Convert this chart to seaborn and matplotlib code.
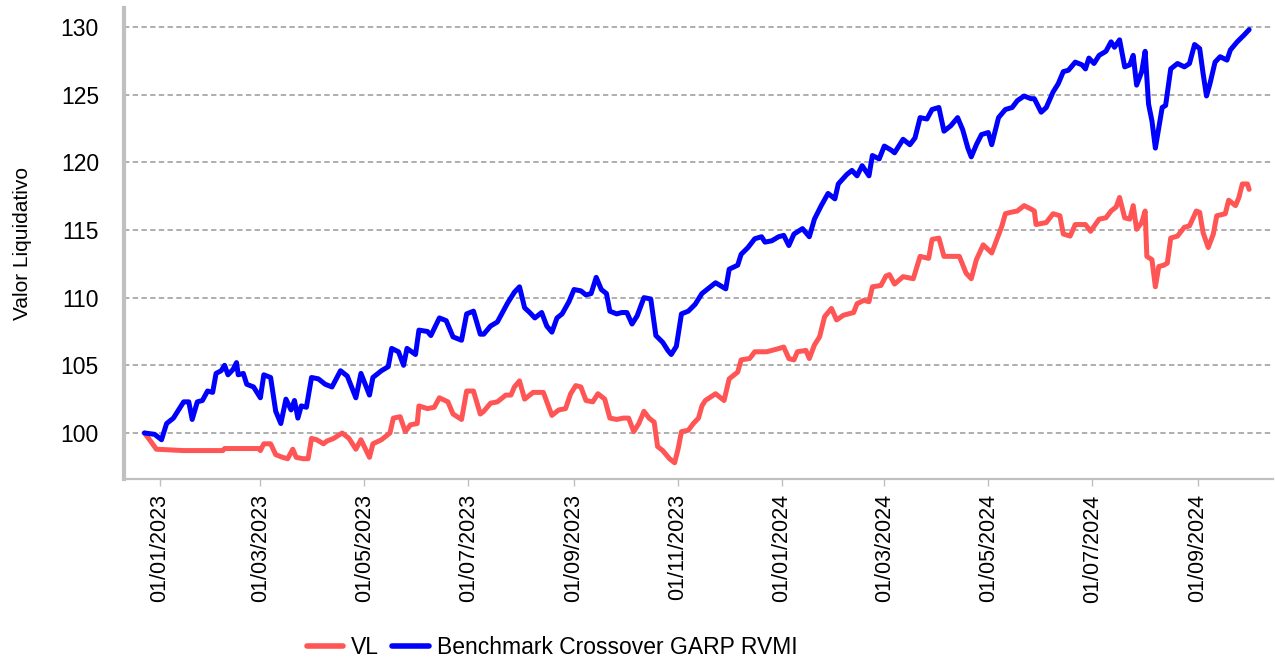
import numpy as np
import pandas as pd
import matplotlib
matplotlib.use('Agg')
import matplotlib.pyplot as plt
import matplotlib.dates as mdates
import seaborn as sns

# VL series
vl_dates = [
    '2022-12-23', '2022-12-26', '2022-12-30', '2023-01-15', '2023-02-07', '2023-02-08',
    '2023-02-28', '2023-03-01', '2023-03-03', '2023-03-07', '2023-03-10', '2023-03-14',
    '2023-03-17', '2023-03-20', '2023-03-22', '2023-03-26', '2023-03-29', '2023-03-31',
    '2023-04-03', '2023-04-07', '2023-04-09', '2023-04-13', '2023-04-18', '2023-04-22',
    '2023-04-26', '2023-04-29', '2023-05-04', '2023-05-06', '2023-05-11', '2023-05-16',
    '2023-05-18', '2023-05-22', '2023-05-25', '2023-05-28', '2023-06-01', '2023-06-02',
    '2023-06-07', '2023-06-11', '2023-06-14', '2023-06-19', '2023-06-22', '2023-06-27',
    '2023-06-30', '2023-07-04', '2023-07-08', '2023-07-10', '2023-07-14', '2023-07-18',
    '2023-07-23', '2023-07-26', '2023-07-28', '2023-07-31', '2023-08-03', '2023-08-08',
    '2023-08-14', '2023-08-19', '2023-08-23', '2023-08-27', '2023-08-30', '2023-09-02',
    '2023-09-05', '2023-09-08', '2023-09-12', '2023-09-15', '2023-09-19', '2023-09-22',
    '2023-09-26', '2023-09-30', '2023-10-03', '2023-10-06', '2023-10-09', '2023-10-12',
    '2023-10-15', '2023-10-18', '2023-10-20', '2023-10-23', '2023-10-27', '2023-10-30',
    '2023-11-01', '2023-11-03', '2023-11-07', '2023-11-10', '2023-11-13', '2023-11-15',
    '2023-11-17', '2023-11-23', '2023-11-28', '2023-12-01', '2023-12-06', '2023-12-08',
    '2023-12-13', '2023-12-16', '2023-12-23', '2023-12-29', '2024-01-02', '2024-01-05',
    '2024-01-08', '2024-01-10', '2024-01-15', '2024-01-17', '2024-01-20', '2024-01-23',
    '2024-01-26', '2024-01-30', '2024-02-02', '2024-02-06', '2024-02-12', '2024-02-14',
    '2024-02-18', '2024-02-21', '2024-02-23', '2024-02-28', '2024-03-02', '2024-03-04',
    '2024-03-07', '2024-03-12', '2024-03-18', '2024-03-22', '2024-03-27', '2024-03-29',
    '2024-04-02', '2024-04-05', '2024-04-09', '2024-04-14', '2024-04-18', '2024-04-21',
    '2024-04-24', '2024-04-28', '2024-05-03', '2024-05-06', '2024-05-09', '2024-05-11',
    '2024-05-14', '2024-05-18', '2024-05-22', '2024-05-26', '2024-05-28', '2024-05-29',
    '2024-06-04', '2024-06-08', '2024-06-12', '2024-06-14', '2024-06-18', '2024-06-21',
    '2024-06-27', '2024-06-30', '2024-07-05', '2024-07-09', '2024-07-12', '2024-07-15',
    '2024-07-17', '2024-07-20', '2024-07-23', '2024-07-25', '2024-07-27', '2024-07-30',
    '2024-08-01', '2024-08-02', '2024-08-05', '2024-08-07', '2024-08-09', '2024-08-12',
    '2024-08-14', '2024-08-16', '2024-08-20', '2024-08-24', '2024-08-27', '2024-08-31',
    '2024-09-02', '2024-09-04', '2024-09-07', '2024-09-10', '2024-09-12', '2024-09-17',
    '2024-09-19', '2024-09-23', '2024-09-25', '2024-09-27', '2024-09-30', '2024-10-01',
]
vl_values = [
    100.0, 99.5, 98.8, 98.7, 98.7, 98.85,
    98.85, 98.7, 99.2, 99.2, 98.4, 98.2,
    98.1, 98.8, 98.2, 98.1, 98.1, 99.6,
    99.5, 99.2, 99.4, 99.6, 100.0, 99.6,
    98.8, 99.5, 98.2, 99.2, 99.5, 100.0,
    101.1, 101.2, 100.1, 100.6, 100.7, 102.0,
    101.8, 101.9, 102.6, 102.3, 101.4, 101.0,
    103.1, 103.1, 101.4, 101.6, 102.2, 102.3,
    102.8, 102.8, 103.4, 103.85, 102.5, 103.0,
    103.0, 101.3, 101.7, 101.8, 102.9, 103.5,
    103.4, 102.4, 102.3, 102.9, 102.5, 101.1,
    101.0, 101.1, 101.1, 100.1, 100.7, 101.6,
    101.1, 100.8, 99.0, 98.7, 98.1, 97.8,
    98.8, 100.1, 100.2, 100.7, 101.1, 102.0,
    102.4, 102.9, 102.4, 104.0, 104.5, 105.4,
    105.5, 106.0, 106.0, 106.2, 106.35, 105.5,
    105.4, 106.0, 106.1, 105.5, 106.5, 107.1,
    108.6, 109.2, 108.35, 108.7, 108.9, 109.55,
    109.8, 109.7, 110.8, 110.9, 111.6, 111.7,
    111.0, 111.55, 111.4, 113.05, 112.9, 114.3,
    114.4, 113.05, 113.05, 113.05, 111.8, 111.4,
    112.8, 113.9, 113.3, 114.3, 115.3, 116.2,
    116.3, 116.4, 116.8, 116.55, 116.4, 115.4,
    115.55, 116.2, 116.05, 114.7, 114.55, 115.4,
    115.4, 114.9, 115.8, 115.9, 116.4, 116.7,
    117.4, 115.9, 115.8, 116.8, 115.05, 115.55,
    116.4, 113.05, 112.8, 110.8, 112.3, 112.4,
    112.55, 114.4, 114.55, 115.2, 115.3, 116.4,
    116.3, 114.8, 113.7, 114.7, 116.05, 116.2,
    117.2, 116.8, 117.4, 118.4, 118.4, 118.0,
]

# Benchmark series
bm_dates = [
    '2022-12-23', '2022-12-29', '2023-01-02', '2023-01-05', '2023-01-09', '2023-01-12',
    '2023-01-15', '2023-01-18', '2023-01-20', '2023-01-23', '2023-01-26', '2023-01-29',
    '2023-02-01', '2023-02-03', '2023-02-06', '2023-02-08', '2023-02-10', '2023-02-13',
    '2023-02-15', '2023-02-16', '2023-02-19', '2023-02-21', '2023-02-25', '2023-03-01',
    '2023-03-03', '2023-03-07', '2023-03-10', '2023-03-13', '2023-03-16', '2023-03-19',
    '2023-03-21', '2023-03-23', '2023-03-25', '2023-03-28', '2023-03-31', '2023-04-04',
    '2023-04-08', '2023-04-12', '2023-04-17', '2023-04-21', '2023-04-26', '2023-04-29',
    '2023-05-04', '2023-05-06', '2023-05-11', '2023-05-15', '2023-05-17', '2023-05-21',
    '2023-05-24', '2023-05-26', '2023-05-31', '2023-06-02', '2023-06-07', '2023-06-09',
    '2023-06-14', '2023-06-18', '2023-06-22', '2023-06-27', '2023-06-30', '2023-07-04',
    '2023-07-08', '2023-07-10', '2023-07-14', '2023-07-18', '2023-07-21', '2023-07-24',
    '2023-07-28', '2023-07-31', '2023-08-03', '2023-08-06', '2023-08-09', '2023-08-13',
    '2023-08-16', '2023-08-19', '2023-08-22', '2023-08-25', '2023-08-29', '2023-09-01',
    '2023-09-05', '2023-09-08', '2023-09-11', '2023-09-14', '2023-09-17', '2023-09-20',
    '2023-09-22', '2023-09-26', '2023-09-29', '2023-10-02', '2023-10-05', '2023-10-08',
    '2023-10-12', '2023-10-16', '2023-10-19', '2023-10-23', '2023-10-26', '2023-10-28',
    '2023-10-31', '2023-11-03', '2023-11-07', '2023-11-11', '2023-11-15', '2023-11-17',
    '2023-11-23', '2023-11-29', '2023-12-01', '2023-12-06', '2023-12-08', '2023-12-12',
    '2023-12-16', '2023-12-20', '2023-12-22', '2023-12-26', '2023-12-30', '2024-01-02',
    '2024-01-05', '2024-01-08', '2024-01-13', '2024-01-17', '2024-01-20', '2024-01-24',
    '2024-01-28', '2024-02-01', '2024-02-03', '2024-02-08', '2024-02-11', '2024-02-14',
    '2024-02-17', '2024-02-21', '2024-02-23', '2024-02-27', '2024-03-01', '2024-03-05',
    '2024-03-07', '2024-03-12', '2024-03-16', '2024-03-19', '2024-03-22', '2024-03-26',
    '2024-03-29', '2024-04-02', '2024-04-05', '2024-04-09', '2024-04-13', '2024-04-16',
    '2024-04-19', '2024-04-21', '2024-04-24', '2024-04-27', '2024-05-01', '2024-05-03',
    '2024-05-07', '2024-05-11', '2024-05-15', '2024-05-18', '2024-05-22', '2024-05-26',
    '2024-05-28', '2024-06-01', '2024-06-04', '2024-06-08', '2024-06-11', '2024-06-14',
    '2024-06-17', '2024-06-21', '2024-06-25', '2024-06-27', '2024-06-29', '2024-07-02',
    '2024-07-05', '2024-07-09', '2024-07-12', '2024-07-14', '2024-07-17', '2024-07-20',
    '2024-07-23', '2024-07-25', '2024-07-27', '2024-07-30', '2024-08-01', '2024-08-03',
    '2024-08-05', '2024-08-07', '2024-08-09', '2024-08-11', '2024-08-13', '2024-08-16',
    '2024-08-20', '2024-08-24', '2024-08-27', '2024-08-30', '2024-09-02', '2024-09-04',
    '2024-09-06', '2024-09-08', '2024-09-11', '2024-09-14', '2024-09-18', '2024-09-20',
    '2024-09-24', '2024-09-28', '2024-10-01',
]
bm_values = [
    100.0, 99.9, 99.5, 100.7, 101.1, 101.7,
    102.3, 102.3, 101.0, 102.3, 102.4, 103.1,
    103.0, 104.4, 104.6, 105.0, 104.3, 104.7,
    105.2, 104.3, 104.4, 103.6, 103.4, 102.6,
    104.3, 104.1, 101.6, 100.7, 102.5, 101.7,
    102.4, 101.1, 102.0, 101.9, 104.1, 104.0,
    103.6, 103.4, 104.6, 104.2, 102.6, 104.4,
    102.8, 104.1, 104.6, 104.9, 106.25, 106.0,
    105.0, 106.25, 105.8, 107.6, 107.5, 107.2,
    108.5, 108.3, 107.1, 106.85, 108.8, 109.0,
    107.3, 107.3, 107.9, 108.2, 108.9, 109.6,
    110.4, 110.8, 109.25, 108.9, 108.5, 108.9,
    107.9, 107.45, 108.5, 108.8, 109.7, 110.6,
    110.5, 110.2, 110.3, 111.5, 110.6, 110.3,
    109.0, 108.8, 108.9, 108.9, 108.05, 108.65,
    110.0, 109.9, 107.2, 106.7, 106.1, 105.8,
    106.4, 108.8, 109.0, 109.5, 110.3, 110.5,
    111.1, 110.65, 112.1, 112.4, 113.2, 113.7,
    114.35, 114.5, 114.1, 114.2, 114.5, 114.6,
    113.85, 114.7, 115.1, 114.5, 115.8, 116.8,
    117.7, 117.3, 118.4, 119.1, 119.4, 119.0,
    119.75, 119.0, 120.5, 120.25, 121.2, 120.9,
    120.7, 121.7, 121.3, 121.8, 123.3, 123.2,
    123.9, 124.05, 122.3, 122.7, 123.3, 122.4,
    121.05, 120.4, 121.3, 122.05, 122.2, 121.3,
    123.3, 123.9, 124.05, 124.55, 124.9, 124.7,
    124.7, 123.7, 124.05, 125.2, 125.8, 126.7,
    126.8, 127.4, 127.2, 126.9, 127.7, 127.3,
    127.9, 128.2, 128.9, 128.5, 129.05, 127.05,
    127.2, 127.9, 125.7, 126.7, 128.2, 124.3,
    123.05, 121.05, 122.55, 124.05, 124.2, 126.9,
    127.3, 127.05, 127.3, 128.7, 128.4, 126.55,
    124.9, 125.8, 127.4, 127.8, 127.55, 128.3,
    128.9, 129.4, 129.8,
]

series_names = ['VL', 'Benchmark Crossover GARP RVMI']
series_colors = ['#ff5555', '#0000ff']

df = pd.concat([
    pd.DataFrame({'date': pd.to_datetime(vl_dates), 'value': vl_values, 'serie': series_names[0]}),
    pd.DataFrame({'date': pd.to_datetime(bm_dates), 'value': bm_values, 'serie': series_names[1]}),
])

sns.set_style('white')
plt.rcParams['font.family'] = ['Liberation Sans', 'DejaVu Sans']
plt.rcParams['text.color'] = 'black'
plt.rcParams['axes.labelcolor'] = 'black'
plt.rcParams['xtick.labelcolor'] = 'black'
plt.rcParams['ytick.labelcolor'] = 'black'

fig = plt.figure(figsize=(12.75, 6.6), dpi=100)
ax = fig.add_axes([124 / 1275, 1 - 479 / 660, (1273 - 124) / 1275, (479 - 8) / 660])

sns.lineplot(data=df, x='date', y='value', hue='serie', palette=series_colors,
             linewidth=3.6, ax=ax, legend=False, estimator=None, sort=False)

ax.set_xlim(pd.Timestamp('2022-12-11'), pd.Timestamp('2024-10-15'))
ax.set_ylim(96.6, 131.4)
ax.set_yticks(np.arange(100, 131, 5))
ax.yaxis.grid(True, color='#999999', linestyle=(0, (3.5, 2.2)), linewidth=1.1)
ax.xaxis.grid(False)

ax.xaxis.set_major_locator(mdates.MonthLocator(bymonth=[1, 3, 5, 7, 9, 11]))
ax.xaxis.set_major_formatter(mdates.DateFormatter('%d/%m/%Y'))
ax.tick_params(axis='x', rotation=90, labelsize=15.5, length=5, width=1,
               color='#c0c0c0', pad=6, bottom=True)
ax.tick_params(axis='y', labelsize=16.5, length=0, pad=18)

for s in ['top', 'right']:
    ax.spines[s].set_visible(False)
ax.spines['left'].set_color('#c0c0c0')
ax.spines['left'].set_linewidth(3)
ax.spines['bottom'].set_color('#c0c0c0')
ax.spines['bottom'].set_linewidth(1.6)

ax.set_xlabel('')
ax.set_ylabel('Valor Liquidativo', fontsize=15)
ax.yaxis.set_label_coords(-0.08, 0.5)

handles = [plt.Line2D([], [], color=c, linewidth=4) for c in series_colors]
fig.legend(handles, series_names, loc='center left',
           bbox_to_anchor=(286 / 1275, 1 - 648 / 660), ncol=2, frameon=False,
           fontsize=16.5, handlelength=1.6, handletextpad=0.35, columnspacing=0.55)

fig.savefig('out.png', dpi=100)
